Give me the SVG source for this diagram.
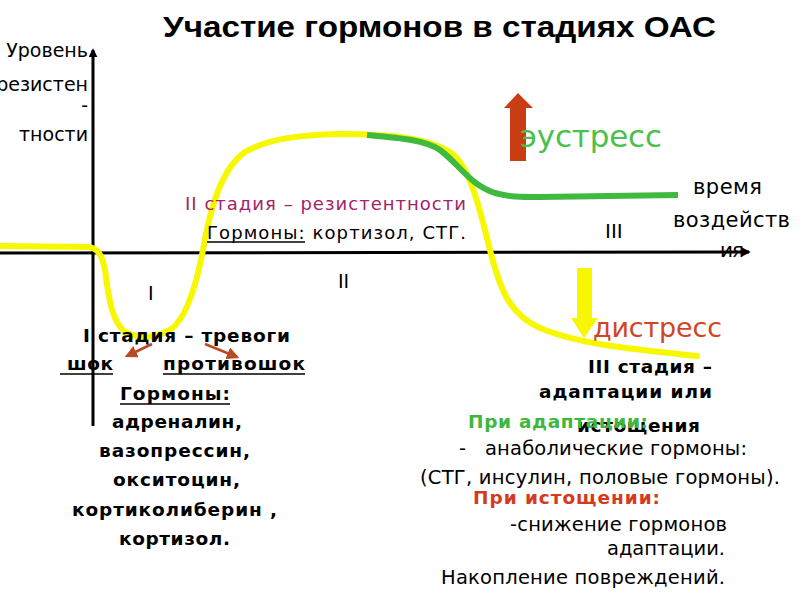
<svg xmlns="http://www.w3.org/2000/svg" width="800" height="600" viewBox="0 0 800 600">
<style>
text{font-family:"DejaVu Sans","Noto Sans",sans-serif;fill:#000}
.t{font-family:"Liberation Sans",Arial,sans-serif;font-weight:bold;font-size:30px}
.b{font-weight:bold;font-size:18.5px}
.n{font-size:19.5px}
.l{font-size:19px}
.ax{stroke:#000;stroke-width:3;fill:none}
.ul{stroke:#000;stroke-width:1.5}
</style>
<defs>
<marker id="ah" viewBox="0 0 10 10" refX="8" refY="5" markerWidth="3" markerHeight="3" orient="auto"><path d="M0,0 L10,5 L0,10 z" fill="#000"/></marker>
<marker id="bh" viewBox="0 0 10 10" refX="8" refY="5" markerWidth="5" markerHeight="5" orient="auto"><path d="M0,0 L10,5 L0,10 z" fill="#b84a24"/></marker>
</defs>
<rect width="800" height="600" fill="#fff"/>
<g id="title"><text class="t" x="163" y="37" textLength="553" lengthAdjust="spacingAndGlyphs">Участие гормонов в стадиях ОАС</text></g>

<g id="connectors">
<line class="ax" x1="93" y1="426" x2="93" y2="50" marker-end="url(#ah)"/>
<line class="ax" x1="0" y1="253" x2="749" y2="252" marker-end="url(#ah)"/>
<path id="yellow-curve" d="M0,246 L88,247 C98,248 102,255 105,270 C108,290 110,320 125,332 C140,340 155,338 170,330 C185,320 195,290 202,255 C210,210 220,170 245,152 C270,138 300,135 340,134 C400,134 430,140 450,152 C470,165 480,210 490,250 C500,290 510,315 540,328 C580,345 640,350 697,356" fill="none" stroke="#f7f700" stroke-width="6" stroke-linecap="round"/>
<path id="green-curve" d="M367,135 C400,138 425,140 440,150 C460,165 470,185 495,193 C510,197 520,197 540,197 L678,195" fill="none" stroke="#3fba3f" stroke-width="6"/>
<line x1="152" y1="344" x2="127" y2="356" stroke="#b84a24" stroke-width="2.5" marker-end="url(#bh)"/>
<line x1="205" y1="344" x2="237" y2="357" stroke="#b84a24" stroke-width="2.5" marker-end="url(#bh)"/>
<polygon id="eustress-arrow" points="518,93 533,108 526,108 526,161 510,161 510,108 504,108" fill="#c93d14"/>
<polygon id="distress-arrow" points="577,268 592,268 592,318 598,318 584,338 571,318 577,318" fill="#f7f700"/>
</g>

<g id="axis-labels">
<text class="l" x="88" y="57" text-anchor="end">Уровень</text>
<text class="l" x="88" y="91" text-anchor="end">резистен</text>
<text class="l" x="88" y="112" text-anchor="end">-</text>
<text class="l" x="88" y="141" text-anchor="end">тности</text>
<text x="693" y="194" font-size="21" textLength="69">время</text>
<text x="673" y="227" font-size="21" textLength="117">воздейств</text>
<text x="720" y="257" font-size="20" textLength="24">ия</text>
</g>

<g id="stage-numbers">
<text x="148" y="300" font-size="19">I</text>
<text x="338" y="288" font-size="19">II</text>
<text x="605" y="238" font-size="20">III</text>
</g>

<g id="eustress"><text x="520" y="147" font-size="31" style="fill:#4cc04c" textLength="142">эустресс</text></g>
<g id="distress"><text x="593" y="337" font-size="27" style="fill:#d04525" textLength="129">дистресс</text></g>

<g id="stage2">
<text x="185" y="210" font-size="18" style="fill:#a3226b" textLength="281">II стадия – резистентности</text>
<text x="207" y="239" font-size="18" textLength="259">Гормоны: кортизол, СТГ.</text>
<line class="ul" x1="207" y1="242" x2="305" y2="242"/>
</g>

<g id="stage1">
<text class="b" x="83" y="342" textLength="207">I стадия – тревоги</text>
<text class="b" x="67" y="370" textLength="46">шок</text>
<line class="ul" x1="60" y1="374" x2="113" y2="374"/>
<text class="b" x="163" y="370" textLength="142">противошок</text>
<line class="ul" x1="163" y1="374" x2="305" y2="374"/>
<text class="b" x="120" y="400" textLength="110">Гормоны:</text>
<line class="ul" x1="120" y1="404" x2="230" y2="404"/>
<text class="b" x="112" y="428" textLength="130">адреналин,</text>
<text class="b" x="99" y="457" textLength="151">вазопрессин,</text>
<text class="b" x="113" y="486" textLength="127">окситоцин,</text>
<text class="b" x="72" y="516" textLength="205">кортиколиберин ,</text>
<text class="b" x="119" y="545" textLength="111">кортизол.</text>
</g>

<g id="stage3">
<text class="b" x="588" y="373" textLength="124">III стадия –</text>
<text class="b" x="539" y="398" textLength="173">адаптации или</text>
<text class="b" x="577" y="432" textLength="123">истощения</text>
<text class="b" x="468" y="428" style="fill:#3db83d" textLength="180">При адаптации:</text>
<text class="n" x="459" y="455">-</text>
<text class="n" x="485" y="455" textLength="262">анаболические гормоны:</text>
<text class="n" x="420" y="484" textLength="360">(СТГ, инсулин, половые гормоны).</text>
<text class="b" x="473" y="504" style="fill:#d63a1e" textLength="187">При истощении:</text>
<text class="n" x="510" y="531" textLength="217">-снижение гормонов</text>
<text class="n" x="607" y="555" textLength="118">адаптации.</text>
<text class="n" x="441" y="584" textLength="284">Накопление повреждений.</text>
</g>
</svg>
